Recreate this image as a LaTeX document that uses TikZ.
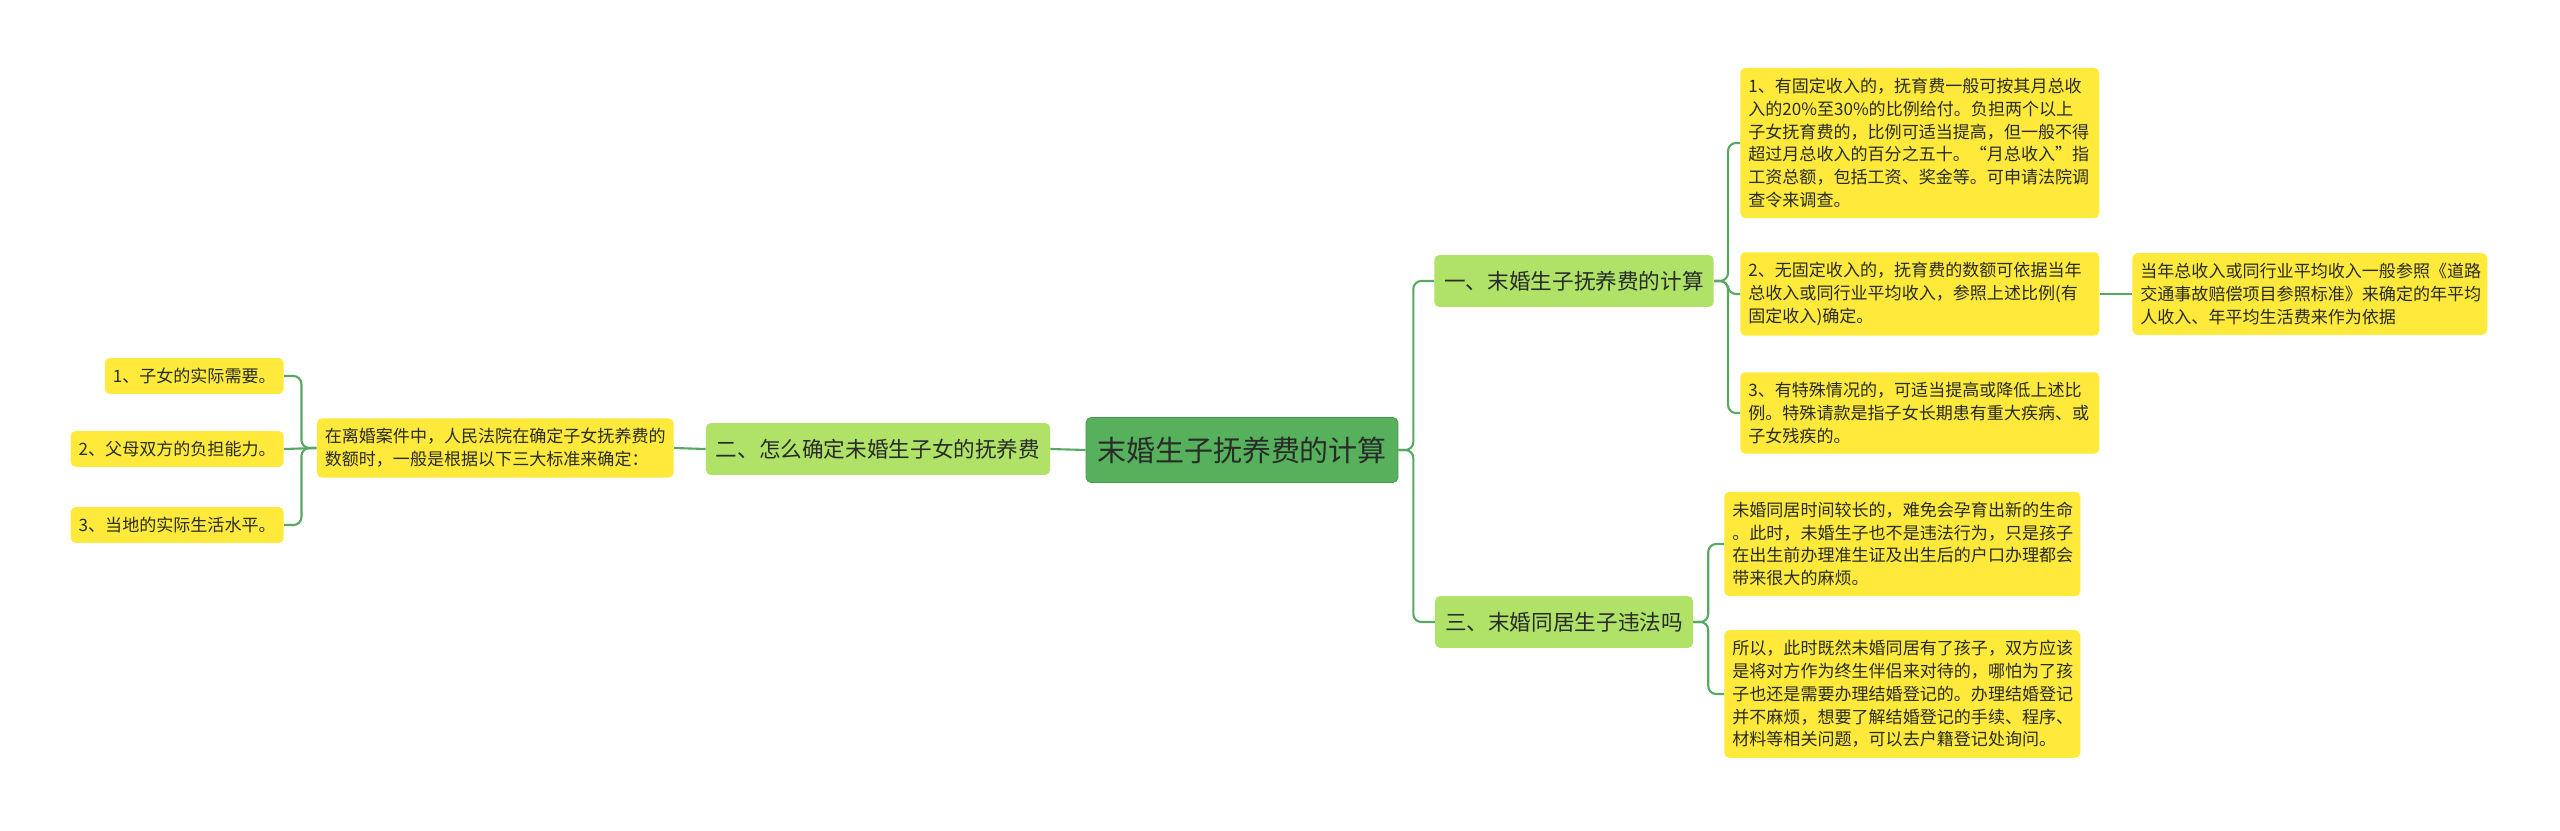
\documentclass[tikz,border=0pt]{standalone}
\usepackage{fontspec}
\setmainfont{Noto Sans CJK SC}
\usetikzlibrary{calc}
\definecolor{rootgreen}{RGB}{86,176,92}
\definecolor{subgreen}{RGB}{176,226,104}
\definecolor{leafyellow}{RGB}{255,233,58}
\definecolor{linkgreen}{RGB}{88,168,100}
\definecolor{darktext}{RGB}{40,44,40}
\begin{document}
\begin{tikzpicture}[x=0.02cm, y=-0.02cm,
  rootbox/.style={fill=rootgreen, draw=rootgreen!85!black, line width=0.4pt, rounded corners=0.1cm, minimum height=1.3cm, inner xsep=0.22cm, text=darktext, font=\fontsize{16.5}{20}\selectfont},
  subbox/.style={fill=subgreen, rounded corners=0.1cm, minimum height=1.04cm, inner xsep=0.2cm, text=darktext, font=\fontsize{12.3}{15}\selectfont},
  leafbox/.style={fill=leafyellow, rounded corners=0.1cm, inner xsep=0.16cm, inner ysep=0.2cm, align=left, text=darktext, font=\fontsize{9.7}{13}\selectfont},
  link/.style={draw=linkgreen, line width=1.2pt, rounded corners=0.16cm}]
\fill[white] (0,0) rectangle (2560,831);
\useasboundingbox (0,0) rectangle (2560,831);
% centre and first level
\node[rootbox] (root) at (1242,450) {末婚生子抚养费的计算};
\node[subbox] (one) at (1574,281) {一、末婚生子抚养费的计算};
\node[subbox] (two) at (878,449) {二、怎么确定未婚生子女的抚养费};
\node[subbox] (three) at (1564,622) {三、末婚同居生子违法吗};
% left side
\node[leafbox, anchor=east] (basis) at (674,448) {在离婚案件中，人民法院在确定子女抚养费的\\数额时，一般是根据以下三大标准来确定：};
\node[leafbox, anchor=east] (need) at (284,376) {1、子女的实际需要。};
\node[leafbox, anchor=east] (ability) at (284,449) {2、父母双方的负担能力。};
\node[leafbox, anchor=east] (living) at (284,525) {3、当地的实际生活水平。};
% right side, part one
\node[leafbox, anchor=west, text width=6.86cm] (fixed) at (1740,143) {1、有固定收入的，抚育费一般可按其月总收\\入的20\%至30\%的比例给付。负担两个以上\\子女抚育费的，比例可适当提高，但一般不得\\超过月总收入的百分之五十。“月总收入”指\\工资总额，包括工资、奖金等。可申请法院调\\查令来调查。};
\node[leafbox, anchor=west, text width=6.86cm] (nofixed) at (1740,294) {2、无固定收入的，抚育费的数额可依据当年\\总收入或同行业平均收入，参照上述比例(有\\固定收入)确定。};
\node[leafbox, anchor=west, text width=6.78cm] (standard) at (2132,294) {当年总收入或同行业平均收入一般参照《道路\\交通事故赔偿项目参照标准》来确定的年平均\\人收入、年平均生活费来作为依据};
\node[leafbox, anchor=west, text width=6.86cm] (special) at (1740,413) {3、有特殊情况的，可适当提高或降低上述比\\例。特殊请款是指子女长期患有重大疾病、或\\子女残疾的。};
% right side, part three
\node[leafbox, anchor=west, text width=6.8cm] (cohabit) at (1724,544) {未婚同居时间较长的，难免会孕育出新的生命\\。此时，未婚生子也不是违法行为，只是孩子\\在出生前办理准生证及出生后的户口办理都会\\带来很大的麻烦。};
\node[leafbox, anchor=west, text width=6.8cm] (register) at (1724,694) {所以，此时既然未婚同居有了孩子，双方应该\\是将对方作为终生伴侣来对待的，哪怕为了孩\\子也还是需要办理结婚登记的。办理结婚登记\\并不麻烦，想要了解结婚登记的手续、程序、\\材料等相关问题，可以去户籍登记处询问。};
% links
\draw[link] (root.west) -- (two.east);
\draw[link] (two.west) -- (basis.east);
\draw[link] (basis.west) -- ++(-15,0) |- (need.east);
\draw[link] (basis.west) -- (ability.east);
\draw[link] (basis.west) -- ++(-15,0) |- (living.east);
\draw[link] (root.east) -- ++(15,0) |- (one.west);
\draw[link] (root.east) -- ++(15,0) |- (three.west);
\draw[link] (one.east) -- ++(14,0) |- (fixed.west);
\draw[link] (one.east) -- ++(14,0) |- (nofixed.west);
\draw[link] (one.east) -- ++(14,0) |- (special.west);
\draw[link] (nofixed.east) -- (standard.west);
\draw[link] (three.east) -- ++(15,0) |- (cohabit.west);
\draw[link] (three.east) -- ++(15,0) |- (register.west);
\end{tikzpicture}
\end{document}
